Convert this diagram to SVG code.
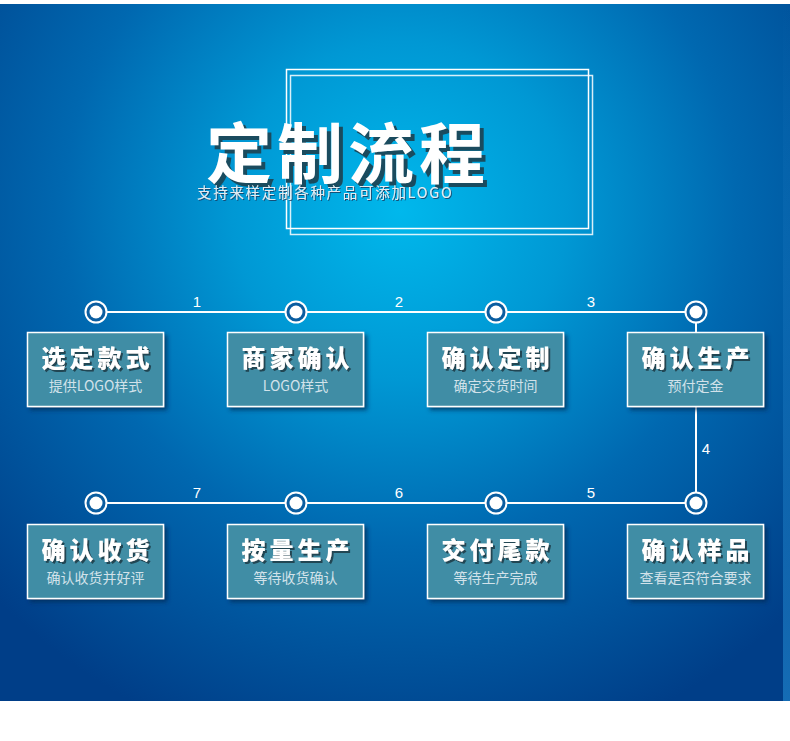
<svg xmlns="http://www.w3.org/2000/svg" width="790" height="741" viewBox="0 0 790 741">
<defs>
<radialGradient id="bg" cx="400" cy="210" r="560" gradientUnits="userSpaceOnUse">
<stop offset="0" stop-color="#00b8ec"/>
<stop offset="0.3" stop-color="#0098d4"/>
<stop offset="0.6" stop-color="#0068b0"/>
<stop offset="1" stop-color="#003e88"/>
</radialGradient>
<linearGradient id="strip" x1="0" y1="0" x2="0" y2="1">
<stop offset="0" stop-color="#1a78c0" stop-opacity="0"/>
<stop offset="1" stop-color="#1a78c0" stop-opacity="0.8"/>
</linearGradient>
<filter id="boxsh" x="-10%" y="-10%" width="130%" height="130%">
<feDropShadow dx="3" dy="3" stdDeviation="2" flood-color="#002a55" flood-opacity="0.7"/>
</filter>
<filter id="txtsh" x="-10%" y="-10%" width="130%" height="130%">
<feDropShadow dx="2" dy="2" stdDeviation="0.6" flood-color="#1c3c4c" flood-opacity="0.9"/>
</filter>
<filter id="subsh" x="-10%" y="-10%" width="130%" height="130%">
<feDropShadow dx="1" dy="1" stdDeviation="0.5" flood-color="#1a3a60" flood-opacity="0.8"/>
</filter>
</defs>
<style>
.box{fill:#3f8da5;stroke:#ffffff;stroke-width:1.5;filter:url(#boxsh)}
.bt{font-family:"Noto Sans CJK SC","Noto Sans",sans-serif;font-weight:900;font-size:24px;fill:#ffffff;text-anchor:middle;letter-spacing:4px;filter:url(#txtsh)}
.bs{font-family:"Noto Sans CJK SC","Noto Sans",sans-serif;font-size:14px;fill:#d2e2ea;text-anchor:middle}
.line{stroke:#ffffff;stroke-width:2;fill:none}
.ring{fill:#0a5da0;stroke:#ffffff;stroke-width:2}
.dot{fill:#ffffff}
.num{font-family:"Liberation Sans","Noto Sans",sans-serif;font-size:15px;fill:#ffffff;text-anchor:middle}
.frame{fill:none;stroke:#ffffff;stroke-width:1.5}
</style>
<rect x="0" y="0" width="790" height="741" fill="#ffffff"/>
<rect x="0" y="4" width="790" height="697" fill="url(#bg)"/>
<rect x="783" y="4" width="7" height="697" fill="url(#strip)"/>

<g id="header">
<rect class="frame" x="286.5" y="69.5" width="302" height="159"/>
<rect class="frame" x="290.5" y="75.5" width="302" height="159" stroke-width="1" opacity="0.85"/>
<text x="206" y="178" font-family="'Noto Sans CJK SC','Noto Sans',sans-serif" font-weight="700" font-size="66" letter-spacing="5" fill="#1a4b5e" transform="translate(4 4)">定制流程</text>
<text x="206" y="178" font-family="'Noto Sans CJK SC','Noto Sans',sans-serif" font-weight="700" font-size="66" letter-spacing="5" fill="#ffffff">定制流程</text>
<text x="197" y="198" font-family="'Noto Sans CJK SC','Noto Sans',sans-serif" font-size="14.5" letter-spacing="1.7" fill="#e2ecf2" filter="url(#subsh)">支持来样定制各种产品可添加LOGO</text>
</g>

<g id="connectors">
<line class="line" x1="96" y1="312" x2="696" y2="312"/>
<line class="line" x1="696" y1="312" x2="696" y2="503"/>
<line class="line" x1="96" y1="503" x2="696" y2="503"/>
<text class="num" x="197" y="307">1</text>
<text class="num" x="399" y="307">2</text>
<text class="num" x="591" y="307">3</text>
<text class="num" x="706" y="454">4</text>
<text class="num" x="591" y="498">5</text>
<text class="num" x="399" y="498">6</text>
<text class="num" x="197" y="498">7</text>
</g>

<g id="dots">
<circle class="ring" cx="96" cy="312" r="10.5"/><circle class="dot" cx="96" cy="312" r="6.5"/>
<circle class="ring" cx="296" cy="312" r="10.5"/><circle class="dot" cx="296" cy="312" r="6.5"/>
<circle class="ring" cx="496" cy="312" r="10.5"/><circle class="dot" cx="496" cy="312" r="6.5"/>
<circle class="ring" cx="696" cy="312" r="10.5"/><circle class="dot" cx="696" cy="312" r="6.5"/>
<circle class="ring" cx="96" cy="503" r="10.5"/><circle class="dot" cx="96" cy="503" r="6.5"/>
<circle class="ring" cx="296" cy="503" r="10.5"/><circle class="dot" cx="296" cy="503" r="6.5"/>
<circle class="ring" cx="496" cy="503" r="10.5"/><circle class="dot" cx="496" cy="503" r="6.5"/>
<circle class="ring" cx="696" cy="503" r="10.5"/><circle class="dot" cx="696" cy="503" r="6.5"/>
</g>

<g id="step1"><rect class="box" x="27.5" y="332.5" width="136" height="74"/><text class="bt" x="97.5" y="367">选定款式</text><text class="bs" x="95.5" y="391">提供LOGO样式</text></g>
<g id="step2"><rect class="box" x="227.5" y="332.5" width="136" height="74"/><text class="bt" x="297.5" y="367">商家确认</text><text class="bs" x="295.5" y="391">LOGO样式</text></g>
<g id="step3"><rect class="box" x="427.5" y="332.5" width="136" height="74"/><text class="bt" x="497.5" y="367">确认定制</text><text class="bs" x="495.5" y="391">确定交货时间</text></g>
<g id="step4"><rect class="box" x="627.5" y="332.5" width="136" height="74"/><text class="bt" x="697.5" y="367">确认生产</text><text class="bs" x="695.5" y="391">预付定金</text></g>
<g id="step5"><rect class="box" x="627.5" y="524.5" width="136" height="74"/><text class="bt" x="697.5" y="559">确认样品</text><text class="bs" x="695.5" y="583">查看是否符合要求</text></g>
<g id="step6"><rect class="box" x="427.5" y="524.5" width="136" height="74"/><text class="bt" x="497.5" y="559">交付尾款</text><text class="bs" x="495.5" y="583">等待生产完成</text></g>
<g id="step7"><rect class="box" x="227.5" y="524.5" width="136" height="74"/><text class="bt" x="297.5" y="559">按量生产</text><text class="bs" x="295.5" y="583">等待收货确认</text></g>
<g id="step8"><rect class="box" x="27.5" y="524.5" width="136" height="74"/><text class="bt" x="97.5" y="559">确认收货</text><text class="bs" x="95.5" y="583">确认收货并好评</text></g>
</svg>
